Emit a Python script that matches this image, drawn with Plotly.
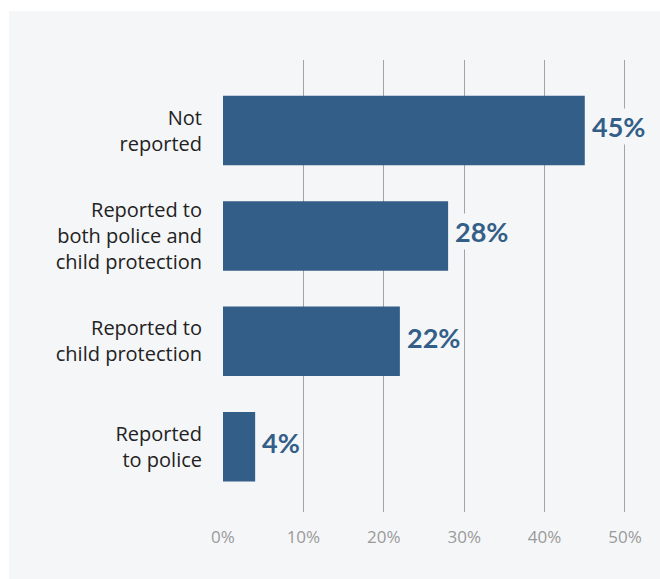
import plotly.graph_objects as go

categories = ["Not<br>reported", "Reported to<br>both police and<br>child protection",
              "Reported to<br>child protection", "Reported<br>to police"]
values = [45, 28, 22, 4]
tick_vals = [0, 10, 20, 30, 40, 50]
tick_text = ["0%", "10%", "20%", "30%", "40%", "50%"]

W, H = 660, 579
L, T = 223, 60
R = W - 629
B = H - 512
pw, ph = W - L - R, H - T - B
panel = "#f5f6f8"
bar_color = "#335e88"

fig = go.Figure(go.Bar(
    x=values, y=categories, orientation="h",
    marker=dict(color=bar_color, line=dict(width=0)),
    width=0.66, hoverinfo="skip",
))

for c, v in zip(categories, values):
    fig.add_annotation(
        x=v, y=c, xref="x", yref="y", text=f"<b>{v}%</b>", showarrow=False,
        xanchor="left", yanchor="middle", xshift=5, yshift=4,
        font=dict(family="Lato", size=27, color="#335e88"),
        bgcolor=panel, borderpad=1,
    )

# white frame strips (top and left) around the light panel
px = lambda p: (p - L) / pw
py = lambda p: (H - B - p) / ph
fig.add_shape(type="rect", xref="paper", yref="paper", layer="below",
              x0=px(-20), x1=px(9), y0=py(H + 20), y1=py(-20),
              fillcolor="white", line=dict(width=0))
fig.add_shape(type="rect", xref="paper", yref="paper", layer="below",
              x0=px(-20), x1=px(W + 20), y0=py(11), y1=py(-20),
              fillcolor="white", line=dict(width=0))

fig.update_layout(
    width=W, height=H,
    margin=dict(l=L, r=R, t=T, b=B, pad=0),
    paper_bgcolor=panel, plot_bgcolor="rgba(0,0,0,0)",
    showlegend=False,
    font=dict(family="Open Sans"),
    xaxis=dict(range=[0, 50.5], tickvals=tick_vals, ticktext=tick_text,
               showgrid=True, gridcolor="#a3a3a3", gridwidth=1,
               zeroline=False, showline=False, ticks="",
               ticklabelstandoff=13,
               tickfont=dict(family="Open Sans", size=17, color="#9a9a9a"),
               fixedrange=True),
    yaxis=dict(type="category", categoryorder="array", categoryarray=categories,
               range=[3.62, -0.67], showgrid=False, zeroline=False,
               showline=False, ticks="", ticklabelstandoff=20,
               tickfont=dict(family="Open Sans", size=20, color="#222222"),
               fixedrange=True),
)

fig.write_html(
    "out.html",
    config={"displayModeBar": False},
    post_script="document.body.style.margin='0';document.body.style.overflow='hidden';",
)
